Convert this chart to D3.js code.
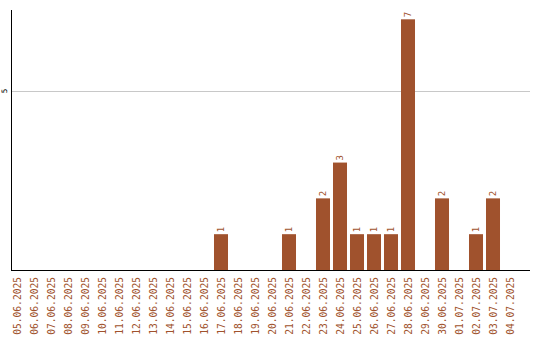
<!DOCTYPE html>
<html><head><meta charset="utf-8">
<script src="https://cdn.jsdelivr.net/npm/d3@7"></script>
<style>body{margin:0;background:#fff}svg{display:block}</style>
</head><body>
<script>
const categories = ["05.06.2025","06.06.2025","07.06.2025","08.06.2025","09.06.2025","10.06.2025","11.06.2025","12.06.2025","13.06.2025","14.06.2025","15.06.2025","16.06.2025","17.06.2025","18.06.2025","19.06.2025","20.06.2025","21.06.2025","22.06.2025","23.06.2025","24.06.2025","25.06.2025","26.06.2025","27.06.2025","28.06.2025","29.06.2025","30.06.2025","01.07.2025","02.07.2025","03.07.2025","04.07.2025"];
const values = [0,0,0,0,0,0,0,0,0,0,0,0,1,0,0,0,1,0,2,3,1,1,1,7,0,2,0,1,2,0];
const yTicks = [5];

const W = 540, H = 340;
const svg = d3.select("body").append("svg").attr("width", W).attr("height", H);
const color = "#A0522D";
const font = "DejaVu Sans Mono, monospace";

const x = d3.scaleBand().domain(categories).range([8.5, 518.5]).paddingInner(0.176).paddingOuter(0.088);
const y = d3.scaleLinear().domain([0, 7.26]).range([270, 10]);

svg.append("g").selectAll("line").data(yTicks).join("line")
  .attr("x1", 11).attr("x2", 530)
  .attr("y1", d => Math.round(y(d)) + 0.5).attr("y2", d => Math.round(y(d)) + 0.5)
  .attr("stroke", "#c8c8c8").attr("stroke-width", 1);

svg.append("g").selectAll("text").data(yTicks).join("text")
  .attr("transform", d => `translate(7,${y(d)}) rotate(-90)`)
  .attr("text-anchor", "middle")
  .attr("font-family", font).attr("font-size", 7.5)
  .attr("fill", "#000").text(d => d);

svg.append("g").selectAll("rect").data(values).join("rect")
  .attr("x", (d, i) => x(categories[i]))
  .attr("width", x.bandwidth())
  .attr("y", d => y(d))
  .attr("height", d => y(0) - y(d))
  .attr("fill", color);

svg.append("g").selectAll("text").data(values.map((v, i) => ({v, c: categories[i]})).filter(d => d.v > 0)).join("text")
  .attr("transform", d => `translate(${x(d.c) + x.bandwidth()/2 + 3},${y(d.v) - 2}) rotate(-90)`)
  .attr("text-anchor", "start")
  .attr("font-family", font).attr("font-size", 9)
  .attr("fill", color).text(d => d.v);

svg.append("line").attr("x1", 11.5).attr("x2", 11.5).attr("y1", 10).attr("y2", 270.5).attr("stroke", "#000");
svg.append("line").attr("x1", 11).attr("x2", 530).attr("y1", 270.5).attr("y2", 270.5).attr("stroke", "#000");

svg.append("g").selectAll("text").data(categories).join("text")
  .attr("transform", d => `translate(${x(d) + x.bandwidth()/2 + 3.5},277) rotate(-90)`)
  .attr("text-anchor", "end")
  .attr("font-family", font).attr("font-size", 9.6)
  .attr("fill", color).text(d => d);
</script>
</body></html>
